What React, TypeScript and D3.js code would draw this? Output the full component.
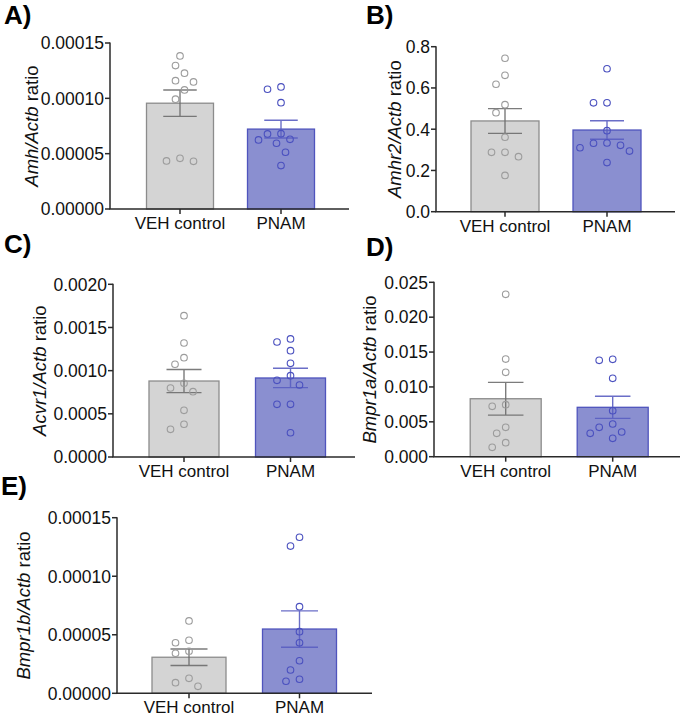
import React from "react";
import * as d3 from "d3";

// ---------- data ----------
const groups = ["VEH control", "PNAM"];

const amhVeh = [1.383e-4, 1.296e-4, 1.227e-4, 1.148e-4, 1.16e-4, 1.076e-4, 0.992e-4, 0.458e-4, 0.431e-4, 0.434e-4];
const amhPnam = [1.082e-4, 1.103e-4, 0.961e-4, 0.678e-4, 0.624e-4, 0.594e-4, 0.63e-4, 0.681e-4, 0.513e-4, 0.392e-4];
const amhMeans = [0.956e-4, 0.722e-4];
const amhSems = [0.119e-4, 0.08e-4];
const amhTicks = [0, 0.00005, 0.0001, 0.00015];
const amhTickLabels = ["0.00000", "0.00005", "0.00010", "0.00015"];

const amhr2Veh = [0.744, 0.661, 0.618, 0.519, 0.48, 0.361, 0.288, 0.267, 0.288, 0.176];
const amhr2Pnam = [0.693, 0.528, 0.528, 0.393, 0.332, 0.31, 0.294, 0.322, 0.333, 0.238];
const amhr2Means = [0.44, 0.396];
const amhr2Sems = [0.06, 0.045];
const amhr2Ticks = [0, 0.2, 0.4, 0.6, 0.8];
const amhr2TickLabels = ["0.0", "0.2", "0.4", "0.6", "0.8"];

const acvr1Veh = [0.001637, 0.00132, 0.00115, 0.001074, 0.000854, 0.000799, 0.000756, 0.000541, 0.000379, 0.000321];
const acvr1Pnam = [0.001367, 0.001332, 0.001231, 0.001085, 0.000942, 0.000888, 0.000834, 0.00061, 0.00061, 0.000281];
const acvr1Means = [0.00088, 0.000915];
const acvr1Sems = [0.000134, 0.000112];
const acvr1Ticks = [0, 0.0005, 0.001, 0.0015, 0.002];
const acvr1TickLabels = ["0.0000", "0.0005", "0.0010", "0.0015", "0.0020"];

const bmpr1aVeh = [0.02328, 0.014, 0.0121, 0.00722, 0.00746, 0.00421, 0.00335, 0.00201, 0.00135];
const bmpr1aPnam = [0.01382, 0.01396, 0.01124, 0.00659, 0.00469, 0.00421, 0.00354, 0.00335, 0.00264];
const bmpr1aMeans = [0.00831, 0.00708];
const bmpr1aSems = [0.00235, 0.00158];
const bmpr1aTicks = [0, 0.005, 0.01, 0.015, 0.02, 0.025];
const bmpr1aTickLabels = ["0.000", "0.005", "0.010", "0.015", "0.020", "0.025"];

const bmpr1bVeh = [0.0000618, 0.0000432, 0.0000453, 0.0000359, 0.0000342, 0.0000128, 0.0000091, 0.000006];
const bmpr1bPnam = [0.0001333, 0.0001258, 0.000074, 0.0000526, 0.0000432, 0.0000278, 0.0000199, 0.000012, 0.0000103];
const bmpr1bMeans = [0.0000308, 0.0000549];
const bmpr1bSems = [0.000007, 0.0000155];
const bmpr1bTicks = [0, 0.00005, 0.0001, 0.00015];
const bmpr1bTickLabels = ["0.00000", "0.00005", "0.00010", "0.00015"];

// ---------- styles ----------
const FONT = "Arial, 'Liberation Sans', Helvetica, sans-serif";
const barFill = ["#d4d4d4", "#8a8fd0"];
const barStroke = ["#8c8c8c", "#4f54bd"];
const errColor = ["#6e6e6e", "#5a5fc2"];
const ptColor = ["#9c9c9c", "#4a50bf"];

type Layout = {
  letter: string; lx: number; ly: number;
  x0: number; x1: number; yTop: number; yBot: number;
  c0: number; c1: number; bw: number; labelX: number;
};

type PanelData = {
  gene: string;
  values: number[][];
  means: number[];
  sems: number[];
  ticks: number[];
  tickLabels: string[];
};

const panels: { layout: Layout; data: PanelData }[] = [
  {
    layout: { letter: "A)", lx: 4, ly: 24, x0: 110, x1: 349, yTop: 43, yBot: 209, c0: 180, c1: 281, bw: 67, labelX: 38 },
    data: { gene: "Amh", values: [amhVeh, amhPnam], means: amhMeans, sems: amhSems, ticks: amhTicks, tickLabels: amhTickLabels },
  },
  {
    layout: { letter: "B)", lx: 366, ly: 24, x0: 436, x1: 675, yTop: 46.7, yBot: 211.7, c0: 505, c1: 607, bw: 68, labelX: 401 },
    data: { gene: "Amhr2", values: [amhr2Veh, amhr2Pnam], means: amhr2Means, sems: amhr2Sems, ticks: amhr2Ticks, tickLabels: amhr2TickLabels },
  },
  {
    layout: { letter: "C)", lx: 4, ly: 253, x0: 113, x1: 355, yTop: 284.3, yBot: 457, c0: 184, c1: 290.5, bw: 70, labelX: 46 },
    data: { gene: "Acvr1", values: [acvr1Veh, acvr1Pnam], means: acvr1Means, sems: acvr1Sems, ticks: acvr1Ticks, tickLabels: acvr1TickLabels },
  },
  {
    layout: { letter: "D)", lx: 366, ly: 256, x0: 434, x1: 680, yTop: 282.3, yBot: 456.7, c0: 505.7, c1: 612.7, bw: 71, labelX: 376 },
    data: { gene: "Bmpr1a", values: [bmpr1aVeh, bmpr1aPnam], means: bmpr1aMeans, sems: bmpr1aSems, ticks: bmpr1aTicks, tickLabels: bmpr1aTickLabels },
  },
  {
    layout: { letter: "E)", lx: 1, ly: 495, x0: 117, x1: 372, yTop: 517.7, yBot: 693.3, c0: 189, c1: 299.5, bw: 74, labelX: 30 },
    data: { gene: "Bmpr1b", values: [bmpr1bVeh, bmpr1bPnam], means: bmpr1bMeans, sems: bmpr1bSems, ticks: bmpr1bTicks, tickLabels: bmpr1bTickLabels },
  },
];

// simple deterministic beeswarm
function swarm(ys: number[], step = 4.5, minDist = 10.5): number[] {
  const order = ys.map((y, i) => i).sort((a, b) => ys[a] - ys[b]);
  const placed: { x: number; y: number }[] = [];
  const out = new Array(ys.length).fill(0);
  for (const i of order) {
    const y = ys[i];
    for (let k = 0; k < 20; k++) {
      const off = k === 0 ? 0 : (k % 2 === 1 ? -1 : 1) * Math.ceil(k / 2) * step;
      const ok = placed.every((p) => Math.hypot(p.x - off, p.y - y) >= minDist);
      if (ok) {
        out[i] = off;
        placed.push({ x: off, y });
        break;
      }
    }
  }
  return out;
}

function Panel({ layout, data }: { layout: Layout; data: PanelData }) {
  const y = d3.scaleLinear()
    .domain([0, data.ticks[data.ticks.length - 1]])
    .range([layout.yBot, layout.yTop]);
  const x = d3.scalePoint<string>().domain(groups).range([layout.c0, layout.c1]);
  const midY = (layout.yTop + layout.yBot) / 2;
  const axisColor = "#2a2a2a";

  return (
    <g>
      <text x={layout.lx} y={layout.ly} fontFamily={FONT} fontWeight="bold" fontSize={26} fill="#000">
        {layout.letter}
      </text>

      {/* bars */}
      {groups.map((g, gi) => {
        const cx = x(g)!;
        const m = data.means[gi];
        const top = y(m);
        return (
          <rect key={"bar" + gi} x={cx - layout.bw / 2} y={top} width={layout.bw} height={layout.yBot - top}
            fill={barFill[gi]} stroke={barStroke[gi]} strokeWidth={1.3} />
        );
      })}

      {/* error bars */}
      {groups.map((g, gi) => {
        const cx = x(g)!;
        const m = data.means[gi];
        const s = data.sems[gi];
        const hw = layout.bw / 4;
        return (
          <g key={"err" + gi} stroke={errColor[gi]} strokeWidth={1.4} opacity={0.9}>
            <line x1={cx} x2={cx} y1={y(m + s)} y2={y(m - s)} />
            <line x1={cx - hw} x2={cx + hw} y1={y(m + s)} y2={y(m + s)} />
            <line x1={cx - hw} x2={cx + hw} y1={y(m - s)} y2={y(m - s)} />
          </g>
        );
      })}

      {/* points */}
      {groups.map((g, gi) => {
        const cx = x(g)!;
        const ys = data.values[gi].map((v) => y(v));
        const offs = swarm(ys);
        return (
          <g key={"pts" + gi}>
            {ys.map((py, i) => (
              <circle key={i} cx={cx + offs[i]} cy={py} r={3.3} fill="none" stroke={ptColor[gi]} strokeWidth={1.1} />
            ))}
          </g>
        );
      })}

      {/* y axis */}
      <line x1={layout.x0} x2={layout.x0} y1={layout.yTop - 0.5} y2={layout.yBot} stroke={axisColor} strokeWidth={1.5} />
      {data.ticks.map((t, i) => (
        <g key={"yt" + i}>
          <line x1={layout.x0 - 5} x2={layout.x0} y1={y(t)} y2={y(t)} stroke={axisColor} strokeWidth={1.5} />
          <text x={layout.x0 - 6} y={y(t)} dy="0.36em" textAnchor="end" fontFamily={FONT} fontSize={17.5} fill="#111">
            {data.tickLabels[i]}
          </text>
        </g>
      ))}

      {/* x axis */}
      <line x1={layout.x0 - 0.75} x2={layout.x1} y1={layout.yBot} y2={layout.yBot} stroke={axisColor} strokeWidth={1.5} />
      {groups.map((g, gi) => (
        <g key={"xt" + gi}>
          <line x1={x(g)!} x2={x(g)!} y1={layout.yBot} y2={layout.yBot + 5} stroke={axisColor} strokeWidth={1.5} />
          <text x={x(g)!} y={layout.yBot + 20} textAnchor="middle" fontFamily={FONT} fontSize={17} fill="#111">
            {g}
          </text>
        </g>
      ))}

      {/* y label */}
      <text transform={`translate(${layout.labelX},${midY}) rotate(-90)`} textAnchor="middle"
        fontFamily={FONT} fontSize={18.5} fill="#111">
        <tspan fontStyle="italic">{data.gene}/Actb</tspan>
        <tspan> ratio</tspan>
      </text>
    </g>
  );
}

export default function App() {
  return (
    <svg width={685} height={716} viewBox="0 0 685 716"
      style={{ position: "absolute", left: 0, top: 0, background: "#fff", display: "block" }}>
      <rect x={0} y={0} width={685} height={716} fill="#fff" />
      {panels.map((p, i) => (
        <Panel key={i} layout={p.layout} data={p.data} />
      ))}
    </svg>
  );
}
